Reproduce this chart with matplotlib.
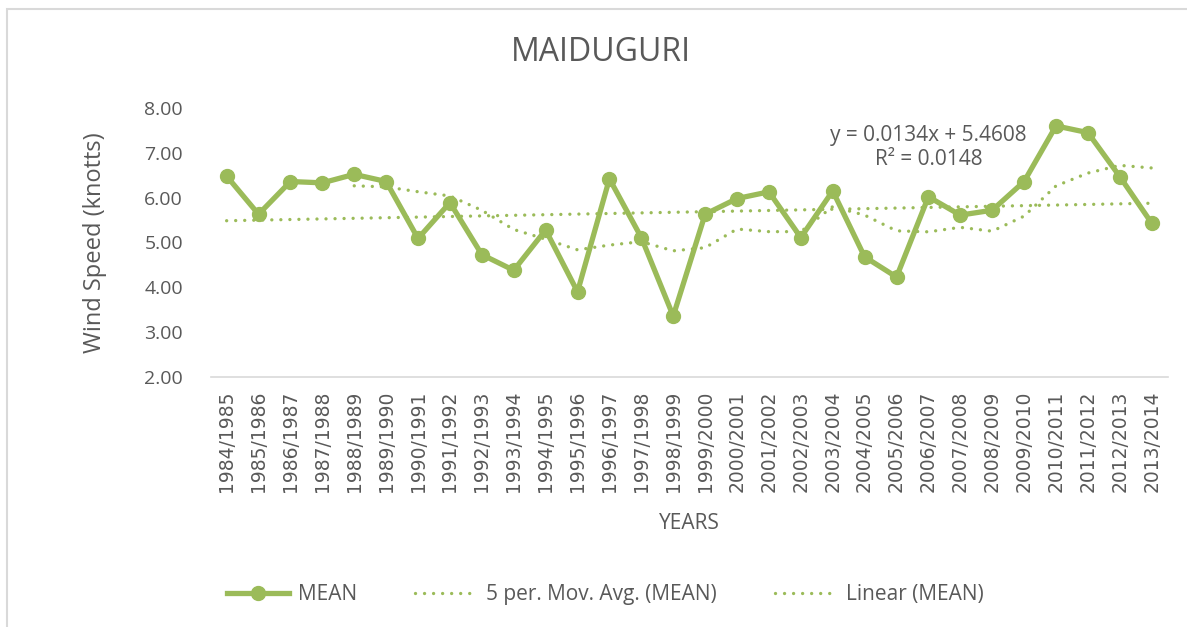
import numpy as np
import matplotlib.pyplot as plt
from matplotlib.lines import Line2D
from matplotlib.patches import Rectangle

years = ['1984/1985', '1985/1986', '1986/1987', '1987/1988', '1988/1989',
         '1989/1990', '1990/1991', '1991/1992', '1992/1993', '1993/1994',
         '1994/1995', '1995/1996', '1996/1997', '1997/1998', '1998/1999',
         '1999/2000', '2000/2001', '2001/2002', '2002/2003', '2003/2004',
         '2004/2005', '2005/2006', '2006/2007', '2007/2008', '2008/2009',
         '2009/2010', '2010/2011', '2011/2012', '2012/2013', '2013/2014']
mean_speed = [6.48, 5.63, 6.36, 6.33, 6.52, 6.36, 5.09, 5.89, 4.73, 4.38,
              5.28, 3.90, 6.42, 5.11, 3.36, 5.63, 5.98, 6.13, 5.11, 6.15,
              4.68, 4.23, 6.02, 5.61, 5.72, 6.36, 7.60, 7.45, 6.47, 5.43]
y_ticks = [2, 3, 4, 5, 6, 7, 8]
trend_text = 'y = 0.0134x + 5.4608\nR² = 0.0148'

green = '#9BBB59'
grey = '#595959'
dots = (0, (0.01, 2.7))
plt.rcParams['font.family'] = ['Open Sans', 'DejaVu Sans']

x = np.arange(1, len(mean_speed) + 1)
vals = np.array(mean_speed)

# 5 period moving average (starts at 5th point)
mov = np.convolve(vals, np.ones(5) / 5, mode='valid')
x_mov = x[4:]

# linear trend
coef = np.polyfit(x, vals, 1)
lin = np.polyval(coef, x)

fig = plt.figure(figsize=(11.87, 6.27), dpi=100)
fig.patches.append(Rectangle((7 / 1187, -0.1), 1.2, 1 - 9 / 627 + 0.1,
                             transform=fig.transFigure, fill=False,
                             edgecolor='#D9D9D9', linewidth=1.5))
ax = fig.add_axes([0.1775, 0.3987, 0.8062, 0.4291])

ax.plot(x, vals, color=green, linewidth=3.8, marker='o', markersize=10,
        solid_joinstyle='round', zorder=3)
ax.plot(x_mov, mov, color=green, linewidth=2.4, linestyle=dots,
        dash_capstyle='round', zorder=2)
ax.plot(x, lin, color=green, linewidth=2.4, linestyle=dots,
        dash_capstyle='round', zorder=2)

ax.set_xlim(0.5, len(years) + 0.5)
ax.set_ylim(2, 8)
ax.set_yticks(y_ticks)
ax.set_yticklabels([f'{t:.2f}' for t in y_ticks])
ax.set_xticks(x)
ax.set_xticklabels(years, rotation=90, family='DejaVu Sans')

for s in ['top', 'right', 'left']:
    ax.spines[s].set_visible(False)
ax.spines['bottom'].set_color('#D9D9D9')
ax.spines['bottom'].set_linewidth(1.2)
ax.tick_params(axis='both', length=0, colors=grey)
ax.tick_params(axis='y', labelsize=14, pad=20)
ax.tick_params(axis='x', labelsize=13.5, pad=10)

ax.set_ylabel('Wind Speed (knotts)', fontsize=17, color=grey, labelpad=27)
ax.set_xlabel('YEARS', fontsize=15, color=grey, labelpad=15)
fig.text(0.506, 0.917, 'MAIDUGURI', fontsize=23, color=grey,
         ha='center', va='center')

ax.text(0.75, 0.852, trend_text, transform=ax.transAxes, fontsize=15,
        color=grey, ha='center', va='center', linespacing=1.2)

handles = [
    Line2D([], [], color=green, linewidth=3.8, marker='o', markersize=10),
    Line2D([], [], color=green, linewidth=2.4, linestyle=dots,
           dash_capstyle='round'),
    Line2D([], [], color=green, linewidth=2.4, linestyle=dots,
           dash_capstyle='round'),
]
labels = ['MEAN', '5 per. Mov. Avg. (MEAN)', 'Linear (MEAN)']
fig.legend(handles, labels, loc='center', bbox_to_anchor=(0.51, 0.052),
           ncol=3, frameon=False, fontsize=15, handlelength=3.0,
           columnspacing=2.8, handletextpad=0.4, labelcolor=grey)

fig.savefig('out.png', dpi=100)
